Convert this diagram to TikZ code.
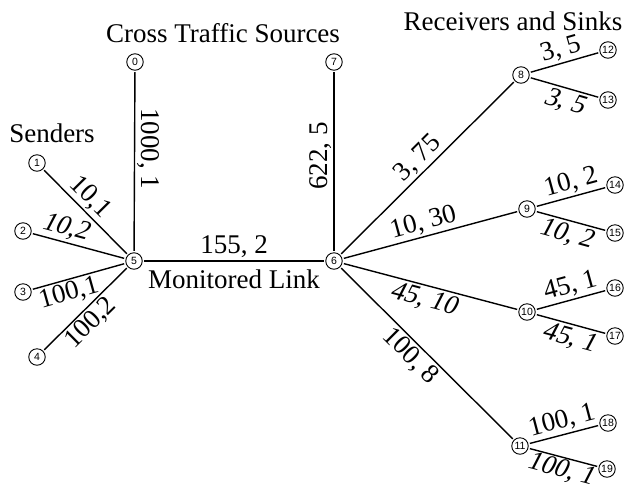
\documentclass[tikz,border=0pt]{standalone}
\usepackage{fontspec}
\setmainfont{Liberation Serif}
\newfontfamily\hostfont{Liberation Sans}
\newfontfamily\slantserif[FakeSlant=0.22]{Liberation Serif}
\begin{document}
\begin{tikzpicture}[x=1pt,y=-1pt,
  host/.style={circle, draw, line width=0.9pt, minimum size=16.5pt, inner sep=0pt,
               font=\hostfont\fontsize{10.5}{10.5}\selectfont},
  link/.style={line width=1.4pt, shorten <=1.5pt, shorten >=1.5pt},
  lab/.style={font=\fontsize{27}{29}\selectfont, inner sep=2pt},
  slab/.style={font=\slantserif\fontsize{27}{29}\selectfont, inner sep=2.5pt},
  heading/.style={font=\fontsize{27}{29}\selectfont, inner sep=0pt}]
\useasboundingbox (0,0) rectangle (632,491);

% hosts
\node[host] (n0)  at (135,62)  {0};
\node[host] (n1)  at (37,163)  {1};
\node[host] (n2)  at (23,231)  {2};
\node[host] (n3)  at (23,292)  {3};
\node[host] (n4)  at (37,357)  {4};
\node[host] (n5)  at (134,261) {5};
\node[host] (n6)  at (334,261) {6};
\node[host] (n7)  at (334,62)  {7};
\node[host] (n8)  at (521,75)  {8};
\node[host] (n9)  at (527,209) {9};
\node[host] (n10) at (527,312) {10};
\node[host] (n11) at (520,446) {11};
\node[host] (n12) at (608,50)  {12};
\node[host] (n13) at (608,100) {13};
\node[host] (n14) at (615,185) {14};
\node[host] (n15) at (615,233) {15};
\node[host] (n16) at (615,288) {16};
\node[host] (n17) at (615,336) {17};
\node[host] (n18) at (608,423) {18};
\node[host] (n19) at (607,469) {19};

% headings
\node[heading] (tsend) at (52,133) {Senders};
\node[heading] (tcross) at (223,33) {Cross Traffic Sources};
\node[heading] (trecv) at (513,21) {Receivers and Sinks};

% senders
\draw[link] (n1) -- node[lab, sloped, above, pos=0.44] {10,1} (n5);
\draw[link] (n2) -- node[slab, sloped, above, pos=0.32] {10,2} (n5);
\draw[link] (n3) -- node[lab, sloped, below, pos=0.36] {100,1} (n5);
\draw[link] (n4) -- node[lab, sloped, below, pos=0.45] {100,2} (n5);

% cross traffic
\draw[link] (n0) -- node[lab, rotate=-90, anchor=south, pos=0.43] {1000, 1} (n5);
\draw[link] (n7) -- node[lab, rotate=90, anchor=south, pos=0.47] {622, 5} (n6);

% monitored link
\draw[link] (n5) -- node[lab, above, inner sep=3pt] {155, 2}
                     node[lab, below, inner sep=8pt] {Monitored Link} (n6);

% receivers
\draw[link] (n6) -- node[lab, sloped, above, pos=0.5] {3, 75} (n8);
\draw[link] (n6) -- node[lab, sloped, above, pos=0.48] {10, 30} (n9);
\draw[link] (n6) -- node[slab, sloped, below, pos=0.48] {45, 10} (n10);
\draw[link] (n6) -- node[lab, sloped, below, pos=0.46] {100, 8} (n11);

% sinks
\draw[link] (n8) -- node[lab, sloped, above, pos=0.5] {3, 5} (n12);
\draw[link] (n8) -- node[slab, sloped, below, pos=0.55] {3, 5} (n13);
\draw[link] (n9) -- node[lab, sloped, above, pos=0.55] {10, 2} (n14);
\draw[link] (n9) -- node[slab, sloped, below, pos=0.48] {10, 2} (n15);
\draw[link] (n10) -- node[lab, sloped, above, pos=0.54] {45, 1} (n16);
\draw[link] (n10) -- node[slab, sloped, below, pos=0.52] {45, 1} (n17);
\draw[link] (n11) -- node[lab, sloped, above, pos=0.52] {100, 1} (n18);
\draw[link] (n11) -- node[slab, sloped, below, pos=0.5, inner sep=1pt] {100, 1} (n19);
\end{tikzpicture}
\end{document}
